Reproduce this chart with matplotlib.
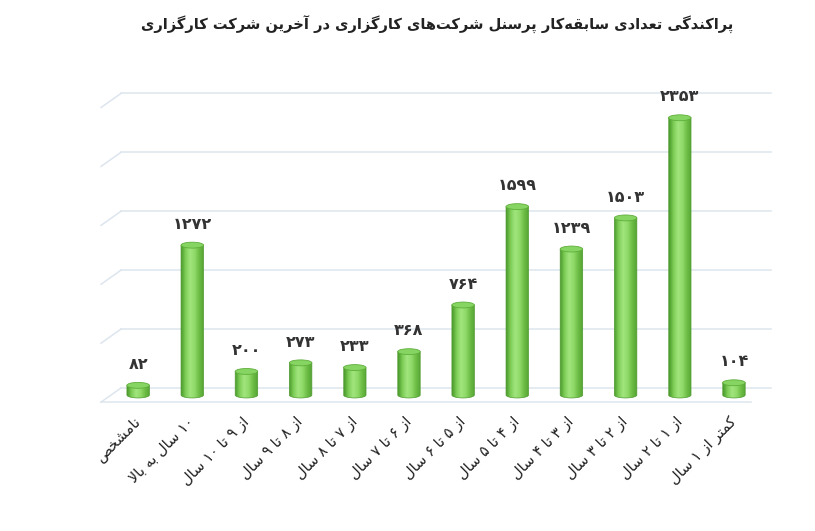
import re
import numpy as np
import matplotlib
matplotlib.use("Agg")
import matplotlib.pyplot as plt
from matplotlib.patches import Ellipse, PathPatch
from matplotlib.path import Path
from matplotlib.colors import LinearSegmentedColormap

# داده‌ها
title = "پراکندگی تعدادی سابقه‌کار پرسنل شرکت‌های کارگزاری در آخرین شرکت کارگزاری"
categories = ["نامشخص", "۱۰ سال به بالا", "از ۹ تا ۱۰ سال", "از ۸ تا ۹ سال",
              "از ۷ تا ۸ سال", "از ۶ تا ۷ سال", "از ۵ تا ۶ سال", "از ۴ تا ۵ سال",
              "از ۳ تا ۴ سال", "از ۲ تا ۳ سال", "از ۱ تا ۲ سال", "کمتر از ۱ سال"]
values = [82, 1272, 200, 273, 233, 368, 764, 1599, 1239, 1503, 2353, 104]
grid_values = [0, 500, 1000, 1500, 2000, 2500]

# فرم‌های نمایشی حروف: (مستقل، پایانی، آغازی، میانی)
FORMS = {
    "ا": ("\uFE8D", "\uFE8E", None, None),
    "آ": ("\uFE81", "\uFE82", None, None),
    "ب": ("\uFE8F", "\uFE90", "\uFE91", "\uFE92"),
    "پ": ("\uFB56", "\uFB57", "\uFB58", "\uFB59"),
    "ت": ("\uFE95", "\uFE96", "\uFE97", "\uFE98"),
    "خ": ("\uFEA5", "\uFEA6", "\uFEA7", "\uFEA8"),
    "د": ("\uFEA9", "\uFEAA", None, None),
    "ر": ("\uFEAD", "\uFEAE", None, None),
    "ز": ("\uFEAF", "\uFEB0", None, None),
    "س": ("\uFEB1", "\uFEB2", "\uFEB3", "\uFEB4"),
    "ش": ("\uFEB5", "\uFEB6", "\uFEB7", "\uFEB8"),
    "ص": ("\uFEB9", "\uFEBA", "\uFEBB", "\uFEBC"),
    "ع": ("\uFEC9", "\uFECA", "\uFECB", "\uFECC"),
    "ق": ("\uFED5", "\uFED6", "\uFED7", "\uFED8"),
    "ک": ("\uFB8E", "\uFB8F", "\uFB90", "\uFB91"),
    "گ": ("\uFB92", "\uFB93", "\uFB94", "\uFB95"),
    "ل": ("\uFEDD", "\uFEDE", "\uFEDF", "\uFEE0"),
    "م": ("\uFEE1", "\uFEE2", "\uFEE3", "\uFEE4"),
    "ن": ("\uFEE5", "\uFEE6", "\uFEE7", "\uFEE8"),
    "و": ("\uFEED", "\uFEEE", None, None),
    "ه": ("\uFEE9", "\uFEEA", "\uFEEB", "\uFEEC"),
    "ی": ("\uFBFC", "\uFBFD", "\uFBFE", "\uFBFF"),
}
LAM_ALEF = {"ا": ("\uFEFB", "\uFEFC"), "آ": ("\uFEF5", "\uFEF6")}


def joins_forward(ch):
    return ch in FORMS and FORMS[ch][2] is not None


def fa(text):
    """شکل‌دهی حروف و ترتیب راست به چپ برای matplotlib"""
    chars = list(text)
    out = []
    i = 0
    while i < len(chars):
        c = chars[i]
        prev = chars[i - 1] if i > 0 else None
        nxt = chars[i + 1] if i + 1 < len(chars) else None
        if c == "\u200c":
            i += 1
            continue
        if c not in FORMS:
            out.append(c)
            i += 1
            continue
        jp = joins_forward(prev)
        if c == "ل" and nxt in LAM_ALEF:
            out.append(LAM_ALEF[nxt][1 if jp else 0])
            i += 2
            continue
        jn = joins_forward(c) and nxt in FORMS
        iso, fin, ini, med = FORMS[c]
        if jp and jn:
            out.append(med)
        elif jp:
            out.append(fin)
        elif jn:
            out.append(ini)
        else:
            out.append(iso)
        i += 1
    s = "".join(out)
    runs = re.findall(r"[۰-۹0-9]+|[^۰-۹0-9]+", s)
    vis = [r if re.match(r"[۰-۹0-9]", r) else r[::-1] for r in runs]
    return "".join(vis[::-1])


def fa_num(n):
    return str(n).translate(str.maketrans("0123456789", "۰۱۲۳۴۵۶۷۸۹"))


plt.rcParams['font.family'] = ['DejaVu Sans']

fig = plt.figure(figsize=(8.15, 5.31), dpi=100)
ax = fig.add_axes([0.1163, 0.2339, 0.8374, 0.6213])
ax.set_xlim(-0.8, 11.8)
ax.set_ylim(-100, 2700)

# خطوط شبکه با حالت سه‌بعدی
DX, DY = 0.185, 60
grid_color = "#dde5ee"
n = len(values)
for g in grid_values:
    ax.plot([-0.5 + DX, n - 0.5 + DX], [g + DY, g + DY], color=grid_color, lw=1.1, zorder=1)
    ax.plot([-0.5 - DX, -0.5 + DX], [g - DY, g + DY], color=grid_color, lw=1.1, zorder=1)
ax.plot([-0.5 - DX, n - 0.5 - DX], [-DY, -DY], color=grid_color, lw=1.1, zorder=1)

# ستون‌های استوانه‌ای
bar_w = 0.415
cap_h = 50
cmap = LinearSegmentedColormap.from_list(
    "cyl", ["#4a9a2c", "#7fcf58", "#a2e57f", "#8fda68", "#6cbc45", "#55a433"])
grad = np.linspace(0, 1, 64).reshape(1, -1)
x = np.arange(n)
bars = ax.bar(x, values, width=bar_w, color="none", zorder=2)
for bar, v in zip(bars, values):
    x0 = bar.get_x()
    x1 = x0 + bar.get_width()
    xc = x0 + bar.get_width() / 2
    t = np.linspace(np.pi, 2 * np.pi, 30)
    verts = [(x0, v), (x0, 0)]
    verts += list(zip(xc + bar_w / 2 * np.cos(t), cap_h / 2 * np.sin(t)))
    verts += [(x1, 0), (x1, v), (x0, v)]
    clip = PathPatch(Path(verts), transform=ax.transData, facecolor="none",
                     edgecolor="#4f9a30", lw=0.5, zorder=3)
    ax.add_patch(clip)
    im = ax.imshow(grad, cmap=cmap, aspect="auto", extent=(x0, x1, -cap_h / 2, v),
                   interpolation="bicubic", zorder=2.5)
    im.set_clip_path(clip)
    ax.add_patch(Ellipse((xc, v), bar_w, cap_h, facecolor="#86d462",
                         edgecolor="#5fae3b", lw=0.6, zorder=4))
    ax.annotate(fa_num(v), (xc, v), xytext=(0, 15), textcoords="offset points",
                ha="center", va="center", fontsize=11.5, fontweight="bold",
                color="#333333", zorder=5)

ax.set_xticks(x)
ax.set_xticklabels([fa(c) for c in categories], rotation=45, ha="right", va="center",
                   rotation_mode="anchor", fontsize=10.5, color="#222222")
ax.tick_params(axis="x", length=0, pad=9)
ax.set_yticks([])
for s in ax.spines.values():
    s.set_visible(False)

fig.text(0.536, 0.953, fa(title), ha="center", va="center", fontsize=10.5,
         fontweight="bold", color="#222222")

fig.savefig("out.png", dpi=100)
